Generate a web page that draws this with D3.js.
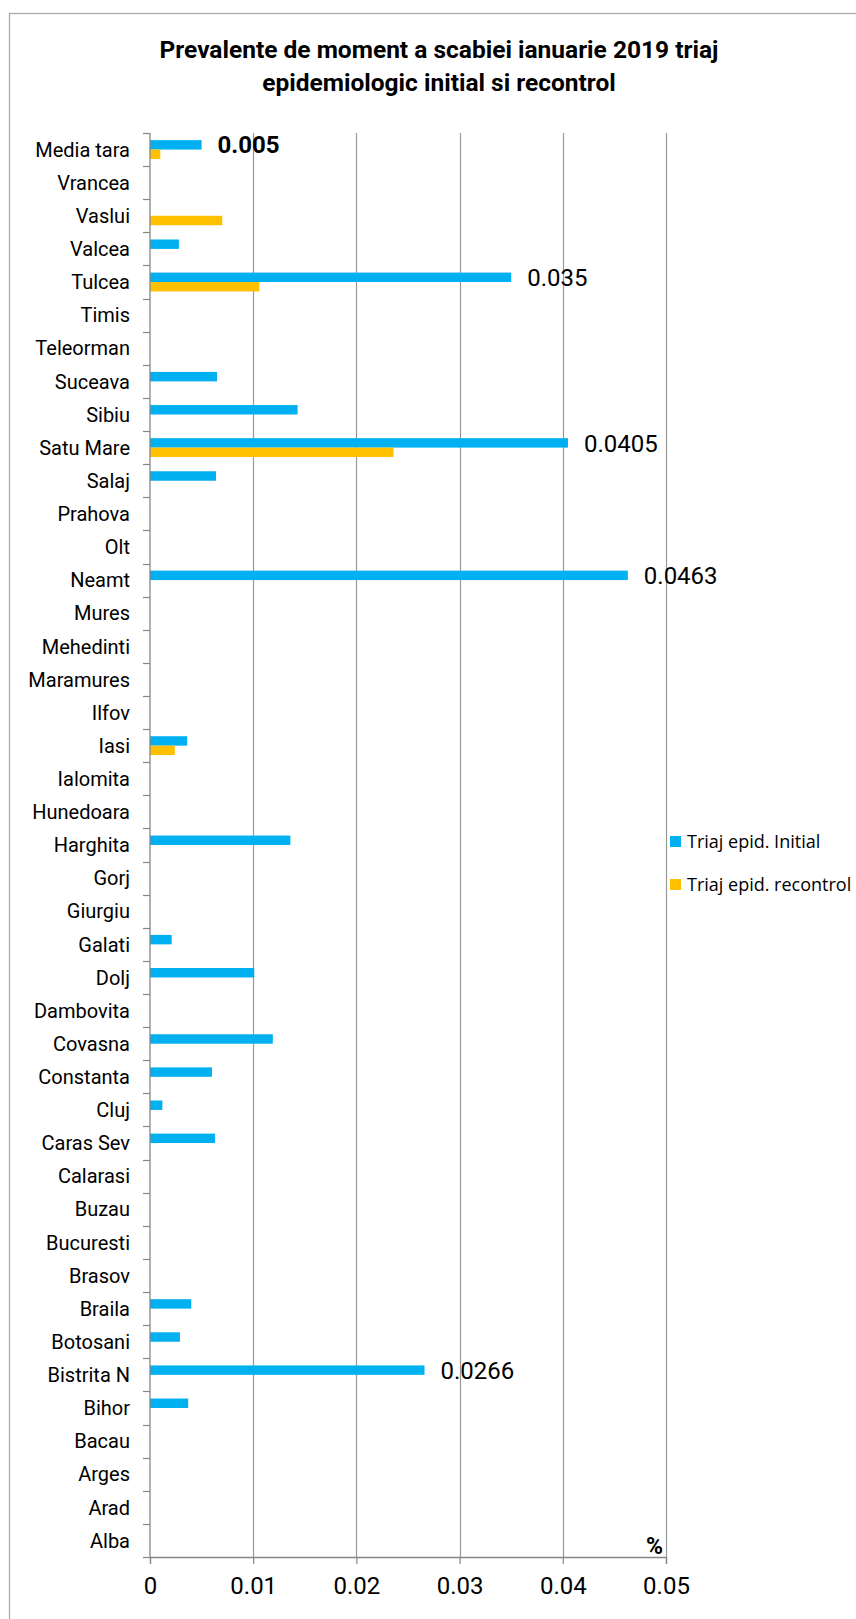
<!DOCTYPE html>
<meta charset="utf-8">
<script src="https://d3js.org/d3.v7.min.js"></script>
<style>
  body { margin: 0; background: #fff; }
</style>
<div id="my_dataviz"></div>
<script>

// categories, top to bottom as in the picture
var categories = ["Media tara","Vrancea","Vaslui","Valcea","Tulcea","Timis","Teleorman","Suceava","Sibiu","Satu Mare",
  "Salaj","Prahova","Olt","Neamt","Mures","Mehedinti","Maramures","Ilfov","Iasi","Ialomita","Hunedoara","Harghita",
  "Gorj","Giurgiu","Galati","Dolj","Dambovita","Covasna","Constanta","Cluj","Caras Sev","Calarasi","Buzau","Bucuresti",
  "Brasov","Braila","Botosani","Bistrita N","Bihor","Bacau","Arges","Arad","Alba"];

// Triaj epid. Initial
var initial = [0.005,0,0,0.0028,0.035,0,0,0.0065,0.0143,0.0405,
  0.0064,0,0,0.0463,0,0,0,0,0.0036,0,0,0.0136,
  0,0,0.0021,0.0101,0,0.0119,0.006,0.0012,0.0063,0,0,0,
  0,0.004,0.0029,0.0266,0.0037,0,0,0,0];

// Triaj epid. recontrol
var recontrol = [0.001,0,0.007,0,0.0106,0,0,0,0,0.0236,
  0,0,0,0,0,0,0,0,0.0024,0,0,0,
  0,0,0,0,0,0,0,0,0,0,0,0,
  0,0,0,0,0,0,0,0,0];

var seriesNames = ["Triaj epid. Initial", "Triaj epid. recontrol"];
var seriesColors = ["#00B0F0", "#FFC000"];
var xTicks = [0, 0.01, 0.02, 0.03, 0.04, 0.05];
// bars that carry a value label (only the first series)
var labelled = ["Media tara", "Tulcea", "Satu Mare", "Neamt", "Bistrita N"];
var titleLines = ["Prevalente de moment a scabiei ianuarie 2019 triaj", "epidemiologic initial si recontrol"];

var W = 856, H = 1619;
var margin = {top: 133, left: 150, right: 190, bottom: 62};

var svg = d3.select("#my_dataviz")
  .append("svg")
    .attr("width", W)
    .attr("height", H)
    .style("display", "block");

// outer chart border (runs off the right edge)
svg.append("rect")
  .attr("x", 9.5).attr("y", 13.5)
  .attr("width", W + 20).attr("height", H + 20)
  .attr("fill", "#fff")
  .attr("stroke", "#a6a6a6")
  .attr("stroke-width", 1.2);

// title
svg.append("g").selectAll("text")
  .data(titleLines)
  .enter()
  .append("text")
    .attr("x", 439)
    .attr("y", function(d, i) { return 58 + i * 33; })
    .attr("text-anchor", "middle")
    .style("font-family", "Roboto, sans-serif")
    .style("font-weight", "bold")
    .style("font-size", "24.5px")
    .style("fill", "#000")
    .text(function(d) { return d; });

var x = d3.scaleLinear()
  .domain([0, 0.05])
  .range([margin.left, W - margin.right]);

var y = d3.scaleBand()
  .domain(categories)
  .range([margin.top, H - margin.bottom])
  .padding(0);

var ySub = d3.scaleBand()
  .domain([0, 1])
  .range([y.bandwidth() * 0.215, y.bandwidth() * 0.785]);

// vertical gridlines
svg.append("g").selectAll("line")
  .data(xTicks.slice(1))
  .enter()
  .append("line")
    .attr("x1", function(d) { return Math.round(x(d)) + 0.5; })
    .attr("x2", function(d) { return Math.round(x(d)) + 0.5; })
    .attr("y1", margin.top)
    .attr("y2", H - margin.bottom)
    .attr("stroke", "#999999")
    .attr("stroke-width", 1.2);

// bars
var rows = categories.map(function(c, i) {
  return {name: c, values: [initial[i], recontrol[i]]};
});

svg.append("g").selectAll("g")
  .data(rows)
  .enter()
  .append("g")
    .attr("transform", function(d) { return "translate(0," + y(d.name) + ")"; })
  .selectAll("rect")
  .data(function(d) { return d.values.map(function(v, k) { return {k: k, v: v}; }); })
  .enter()
  .filter(function(d) { return d.v > 0; })
  .append("rect")
    .attr("x", x(0))
    .attr("y", function(d) { return ySub(d.k); })
    .attr("width", function(d) { return x(d.v) - x(0); })
    .attr("height", ySub.bandwidth())
    .attr("fill", function(d) { return seriesColors[d.k]; });

// x axis
var xAxis = svg.append("g")
  .attr("transform", "translate(0," + (H - margin.bottom) + ")")
  .call(d3.axisBottom(x).tickValues(xTicks).tickSize(7).tickFormat(function(d) { return String(d); }));
xAxis.select(".domain").attr("stroke", "#868686").attr("stroke-width", 1.3);
xAxis.selectAll(".tick line").attr("stroke", "#868686").attr("stroke-width", 1.2);
xAxis.selectAll(".tick text")
  .attr("y", 20)
  .attr("dy", "0.71em")
  .style("font-family", "Roboto, sans-serif")
  .style("font-size", "24px")
  .style("fill", "#000");

// y axis: line, ticks at band boundaries, labels
var yg = svg.append("g");
yg.append("line")
  .attr("x1", x(0)).attr("x2", x(0))
  .attr("y1", margin.top).attr("y2", H - margin.bottom)
  .attr("stroke", "#868686").attr("stroke-width", 1.3);
yg.selectAll(".ytick")
  .data(categories.concat(["end"]))
  .enter()
  .append("line")
    .attr("class", "ytick")
    .attr("x1", x(0) - 7).attr("x2", x(0))
    .attr("y1", function(d, i) { return Math.round(margin.top + i * y.step()) + 0.5; })
    .attr("y2", function(d, i) { return Math.round(margin.top + i * y.step()) + 0.5; })
    .attr("stroke", "#868686").attr("stroke-width", 1.2);
yg.selectAll(".ylabel")
  .data(categories)
  .enter()
  .append("text")
    .attr("class", "ylabel")
    .attr("x", x(0) - 20)
    .attr("y", function(d) { return y(d) + y.bandwidth() / 2; })
    .attr("dy", "0.36em")
    .attr("text-anchor", "end")
    .style("font-family", "Roboto, sans-serif")
    .style("font-size", "20px")
    .style("fill", "#000")
    .text(function(d) { return d; });

// value labels
svg.append("g").selectAll("text")
  .data(rows.filter(function(d) { return labelled.indexOf(d.name) >= 0; }))
  .enter()
  .append("text")
    .attr("x", function(d) { return x(d.values[0]) + 16; })
    .attr("y", function(d) { return y(d.name) + ySub(0) + ySub.bandwidth() / 2; })
    .attr("dy", "0.36em")
    .style("font-family", "Roboto, sans-serif")
    .style("font-size", "24px")
    .style("font-weight", function(d, i) { return i === 0 ? "bold" : "normal"; })
    .style("fill", "#000")
    .text(function(d) { return String(d.values[0]); });

// unit label
svg.append("text")
  .attr("x", x(0.05) - 3)
  .attr("y", H - margin.bottom - 3)
  .attr("text-anchor", "end")
  .style("font-family", "Roboto, sans-serif")
  .style("font-weight", "bold")
  .style("font-size", "23px")
  .text("%");

// legend
var legend = svg.append("g").selectAll("g")
  .data(seriesNames)
  .enter()
  .append("g")
    .attr("transform", function(d, i) { return "translate(670," + (836 + i * 43) + ")"; });
legend.append("rect")
  .attr("width", 11).attr("height", 11)
  .attr("fill", function(d, i) { return seriesColors[i]; });
legend.append("text")
  .attr("x", 17)
  .attr("y", 6)
  .attr("dy", "0.36em")
  .style("font-family", "'Open Sans', sans-serif")
  .style("font-size", "18px")
  .style("fill", "#000")
  .text(function(d) { return d; });

</script>
